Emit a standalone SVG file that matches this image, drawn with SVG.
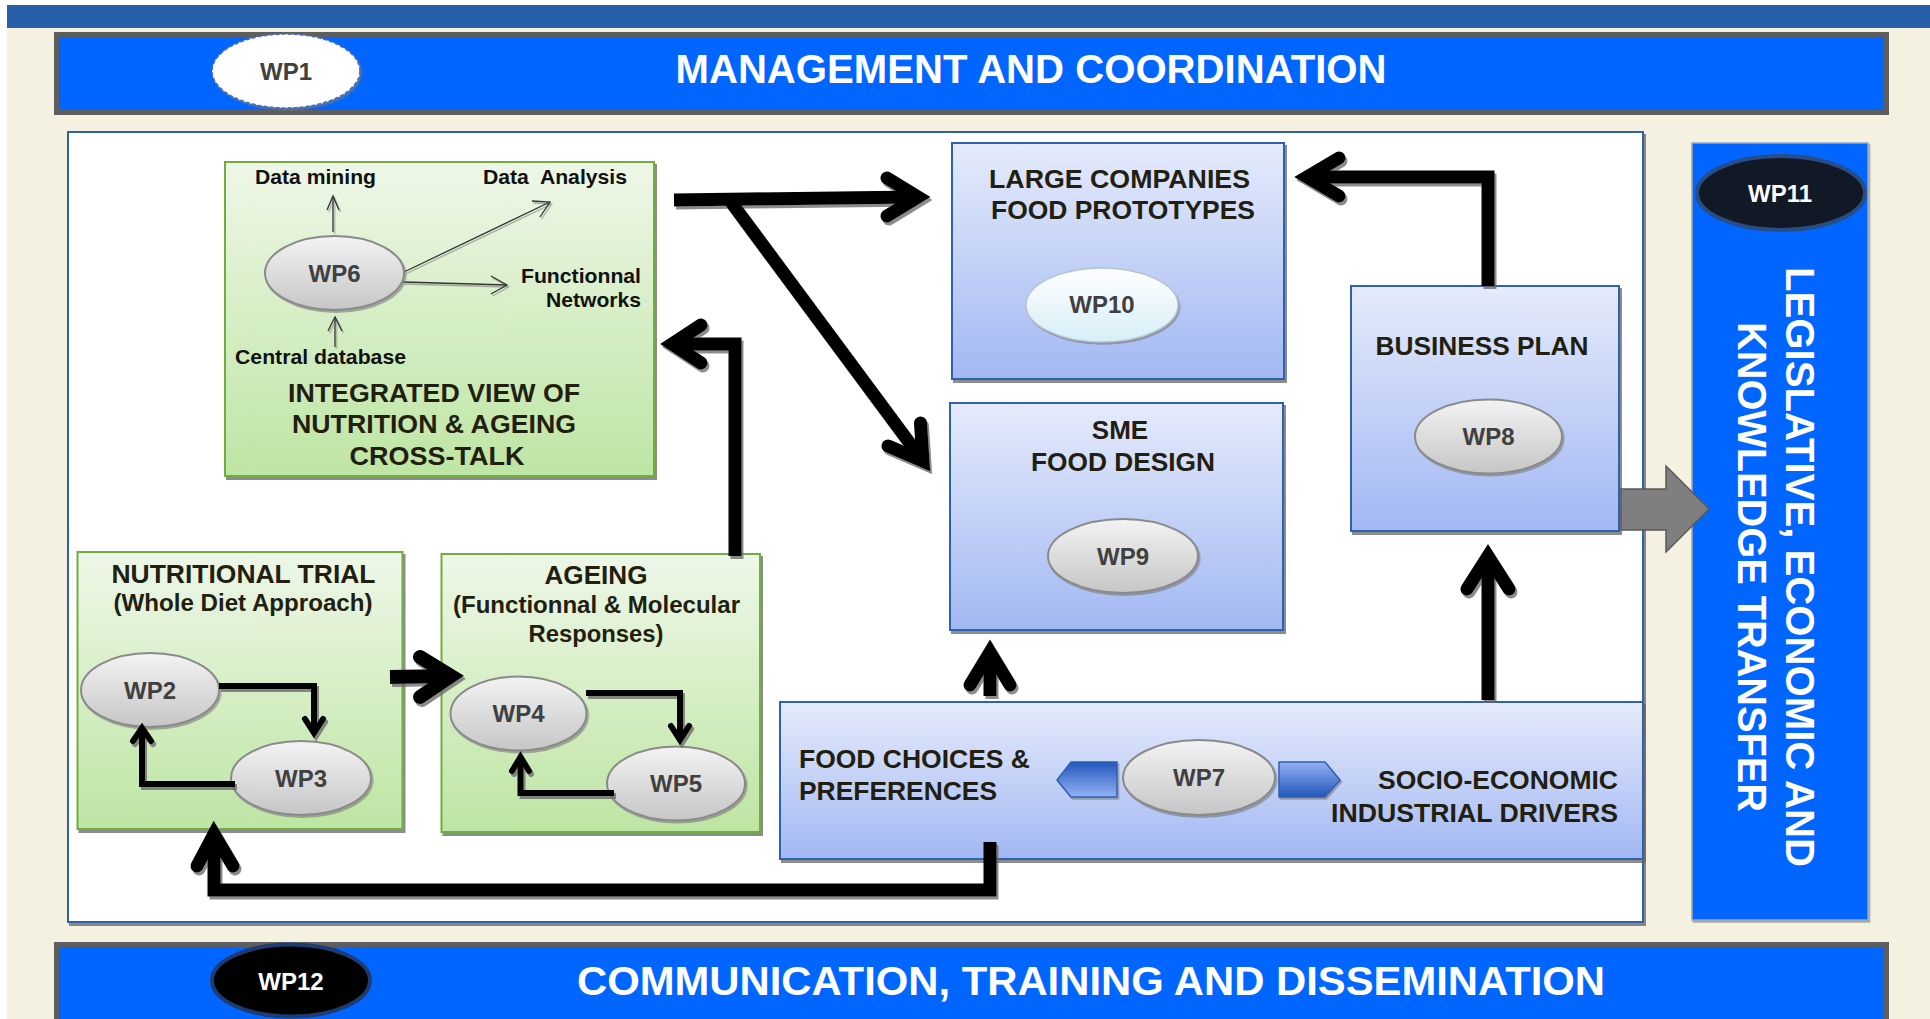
<svg xmlns="http://www.w3.org/2000/svg" width="1930" height="1019" viewBox="0 0 1930 1019">
<defs>
<linearGradient id="gGreen" x1="0" y1="0" x2="0" y2="1"><stop offset="0" stop-color="#EEF7E8"/><stop offset="1" stop-color="#BEE5A3"/></linearGradient>
<linearGradient id="gBlue" x1="0" y1="0" x2="0" y2="1"><stop offset="0" stop-color="#E5EBFB"/><stop offset="1" stop-color="#A2B8F3"/></linearGradient>
<linearGradient id="gGray" x1="0" y1="0" x2="0" y2="1"><stop offset="0" stop-color="#F3F3F3"/><stop offset="1" stop-color="#C6C6C6"/></linearGradient>
<linearGradient id="gWP10" x1="0" y1="0" x2="0" y2="1"><stop offset="0" stop-color="#FFFFFF"/><stop offset="1" stop-color="#D6EEF8"/></linearGradient>
<linearGradient id="gHexL" x1="0" y1="0" x2="0" y2="1"><stop offset="0" stop-color="#2457BC"/><stop offset="1" stop-color="#93B0F5"/></linearGradient>
<linearGradient id="gHexR" x1="0" y1="0" x2="0" y2="1"><stop offset="0" stop-color="#93B0F5"/><stop offset="1" stop-color="#2457BC"/></linearGradient>
<filter id="sh" x="-10%" y="-10%" width="130%" height="140%"><feDropShadow dx="2" dy="3" stdDeviation="0.7" flood-color="#666" flood-opacity="0.75"/></filter>
<filter id="shs" x="-10%" y="-10%" width="130%" height="140%"><feDropShadow dx="1.5" dy="2" stdDeviation="0.5" flood-color="#777" flood-opacity="0.6"/></filter>
</defs>
<style>
text{font-family:"Liberation Sans",Arial,sans-serif;font-weight:bold}
.box{stroke-width:2}
.green{fill:url(#gGreen);stroke:#6FAD3F}
.blue{fill:url(#gBlue);stroke:#2F62AE}
.ell{fill:url(#gGray);stroke:#8A8A8A;stroke-width:2}
.wp{font-size:24px;fill:#404040;text-anchor:middle}
.wpw{font-size:24px;fill:#FFFFFF;text-anchor:middle}
.ttl{font-size:26px;fill:#221E10;text-anchor:middle}
.sub{font-size:23px;fill:#221E10;text-anchor:middle}
.lbl{font-size:20.5px;fill:#111}
.big{font-size:40px;fill:#FFFFFF;text-anchor:middle}
.st{text-anchor:start}
.en{text-anchor:end}
.thick{fill:none;stroke:#000;stroke-width:13;stroke-linejoin:miter;stroke-linecap:butt}
.head{fill:none;stroke:#000;stroke-width:13;stroke-linejoin:miter;stroke-linecap:round}
.small{fill:none;stroke:#000;stroke-width:6;stroke-linejoin:miter;stroke-linecap:butt}
.shead{fill:none;stroke:#000;stroke-width:6;stroke-linejoin:miter;stroke-linecap:round}
.thin{fill:none;stroke:#333;stroke-width:1.3;stroke-linejoin:miter}
</style>

<rect x="0" y="0" width="1930" height="1019" fill="#FFFFFF"/>
<rect x="7" y="28" width="1923" height="991" fill="#F4F1E1"/>
<rect x="7" y="5" width="1923" height="23" fill="#2560A8"/>

<g id="header">
<rect x="56.5" y="34.5" width="1830" height="78" fill="#0066FF" stroke="#5E5E5E" stroke-width="5"/>
<text class="big" x="1031" y="83" textLength="711" lengthAdjust="spacingAndGlyphs">MANAGEMENT AND COORDINATION</text>
</g>
<g id="wp1">
<ellipse cx="286" cy="71" rx="74" ry="37" fill="#FFFFFF" stroke="#4A6DB8" stroke-width="1.6" stroke-dasharray="4 2" filter="url(#shs)"/>
<text class="wp" x="286" y="80">WP1</text>
</g>

<g id="footer">
<rect x="56.5" y="944.5" width="1830" height="78" fill="#0066FF" stroke="#5E5E5E" stroke-width="5"/>
<text class="big" x="1091" y="995" textLength="1028" lengthAdjust="spacingAndGlyphs">COMMUNICATION, TRAINING AND DISSEMINATION</text>
</g>
<g id="wp12">
<ellipse cx="291" cy="980.5" rx="79" ry="36" fill="#000000" stroke="#1E3C72" stroke-width="4"/>
<text class="wpw" x="291" y="990">WP12</text>
</g>

<g id="main-panel">
<rect x="68" y="132" width="1575" height="790" fill="#FFFFFF" stroke="#2F62AE" stroke-width="2" filter="url(#sh)"/>
</g>

<g id="wp11">
<rect x="1692" y="143" width="176" height="777" fill="#0066FF" stroke="#9AA6BA" stroke-width="1.5" filter="url(#shs)"/>
<ellipse cx="1781" cy="193" rx="84" ry="37" fill="#111826" stroke="#284C84" stroke-width="4"/>
<text class="wpw" x="1780" y="202">WP11</text>
<text class="big" transform="translate(1780,567) rotate(90)" x="0" y="-6" textLength="600" lengthAdjust="spacingAndGlyphs">LEGISLATIVE, ECONOMIC AND</text>
<text class="big" transform="translate(1780,567) rotate(90)" x="0" y="42" textLength="490" lengthAdjust="spacingAndGlyphs">KNOWLEDGE TRANSFER</text>
</g>

<g id="integrated-view">
<rect class="box green" x="225" y="162" width="429" height="314" filter="url(#sh)"/>
<text class="lbl" x="255" y="184" textLength="121" lengthAdjust="spacingAndGlyphs">Data mining</text>
<text class="lbl" x="483" y="184" xml:space="preserve" textLength="144" lengthAdjust="spacingAndGlyphs">Data  Analysis</text>
<text class="lbl en" x="641" y="283" textLength="120" lengthAdjust="spacingAndGlyphs">Functionnal</text>
<text class="lbl en" x="641" y="307" textLength="95" lengthAdjust="spacingAndGlyphs">Networks</text>
<text class="lbl" x="235" y="364" textLength="171" lengthAdjust="spacingAndGlyphs">Central database</text>
<g filter="url(#shs)">
<line class="thin" x1="333" y1="232" x2="333" y2="196"/>
<polyline class="thin" points="327,210 333,196 339,210"/>
<line class="thin" x1="335" y1="347" x2="335" y2="317"/>
<polyline class="thin" points="328,331 335,317 342,331"/>
<line class="thin" x1="404" y1="272" x2="550" y2="202"/>
<polyline class="thin" points="532,201 550,202 540,217"/>
<line class="thin" x1="403" y1="282" x2="507" y2="285"/>
<polyline class="thin" points="491,276 507,285 491,294"/>
</g>
<text class="ttl" x="434" y="402" textLength="292" lengthAdjust="spacingAndGlyphs">INTEGRATED VIEW OF</text>
<text class="ttl" x="434" y="433" textLength="284" lengthAdjust="spacingAndGlyphs">NUTRITION &amp; AGEING</text>
<text class="ttl" x="437" y="465" textLength="175" lengthAdjust="spacingAndGlyphs">CROSS-TALK</text>
</g>
<g id="wp6">
<ellipse class="ell" cx="334.5" cy="273" rx="69.5" ry="37" filter="url(#shs)"/>
<text class="wp" x="334.5" y="282">WP6</text>
</g>

<g id="large-companies">
<rect class="box blue" x="952" y="143" width="332" height="236" filter="url(#sh)"/>
<text class="ttl" x="1119.5" y="188" textLength="261" lengthAdjust="spacingAndGlyphs">LARGE COMPANIES</text>
<text class="ttl" x="1123" y="219" textLength="264" lengthAdjust="spacingAndGlyphs">FOOD PROTOTYPES</text>
</g>
<g id="wp10">
<ellipse cx="1102" cy="305" rx="76" ry="37" fill="url(#gWP10)" stroke="#B8C4CC" stroke-width="1.5" filter="url(#shs)"/>
<text class="wp" x="1102" y="313">WP10</text>
</g>

<g id="sme">
<rect class="box blue" x="950" y="403" width="333" height="227" filter="url(#sh)"/>
<text class="ttl" x="1120" y="439">SME</text>
<text class="ttl" x="1123" y="471" textLength="184" lengthAdjust="spacingAndGlyphs">FOOD DESIGN</text>
</g>
<g id="wp9">
<ellipse class="ell" cx="1123" cy="556" rx="75" ry="37" filter="url(#shs)"/>
<text class="wp" x="1123" y="565">WP9</text>
</g>

<g id="business-plan">
<rect class="box blue" x="1351" y="286" width="268" height="245" filter="url(#sh)"/>
<text class="ttl" x="1482" y="355" textLength="213" lengthAdjust="spacingAndGlyphs">BUSINESS PLAN</text>
</g>
<g id="wp8">
<ellipse class="ell" cx="1488.5" cy="436.5" rx="73.5" ry="37" filter="url(#shs)"/>
<text class="wp" x="1488.5" y="445">WP8</text>
</g>

<g id="transfer-arrow">
<polygon points="1621,489 1666,489 1666,466 1709,509 1666,552 1666,530 1621,530" fill="#7F7F7F" stroke="#5A5A5A" stroke-width="1.5"/>
</g>

<g id="nutritional-trial">
<rect class="box green" x="77.5" y="552" width="325" height="277" filter="url(#sh)"/>
<text class="ttl" x="243.5" y="583" textLength="264" lengthAdjust="spacingAndGlyphs">NUTRITIONAL TRIAL</text>
<text class="sub" x="243" y="611" textLength="259" lengthAdjust="spacingAndGlyphs">(Whole Diet Approach)</text>
</g>
<g id="wp2">
<ellipse class="ell" cx="150" cy="690" rx="69" ry="37" filter="url(#shs)"/>
<text class="wp" x="150" y="699">WP2</text>
</g>
<g id="wp3">
<ellipse class="ell" cx="301" cy="778" rx="70" ry="37" filter="url(#shs)"/>
<text class="wp" x="301" y="787">WP3</text>
</g>

<g id="ageing">
<rect class="box green" x="441.5" y="554" width="318.5" height="278" filter="url(#sh)"/>
<text class="ttl" x="596" y="584" textLength="103" lengthAdjust="spacingAndGlyphs">AGEING</text>
<text class="sub" x="596.5" y="613" textLength="287" lengthAdjust="spacingAndGlyphs">(Functionnal &amp; Molecular</text>
<text class="sub" x="596" y="642" textLength="135" lengthAdjust="spacingAndGlyphs">Responses)</text>
</g>
<g id="wp4">
<ellipse class="ell" cx="518.5" cy="713.5" rx="68" ry="37" filter="url(#shs)"/>
<text class="wp" x="518.5" y="722">WP4</text>
</g>
<g id="wp5">
<ellipse class="ell" cx="676" cy="783.5" rx="69" ry="37" filter="url(#shs)"/>
<text class="wp" x="676" y="792">WP5</text>
</g>

<g id="food-choices">
<rect class="box blue" x="780" y="702" width="863" height="157" filter="url(#sh)"/>
<text class="ttl st" x="799" y="768" textLength="231" lengthAdjust="spacingAndGlyphs">FOOD CHOICES &amp;</text>
<text class="ttl st" x="799" y="800" textLength="198" lengthAdjust="spacingAndGlyphs">PREFERENCES</text>
<text class="ttl en" x="1618" y="789" textLength="240" lengthAdjust="spacingAndGlyphs">SOCIO-ECONOMIC</text>
<text class="ttl en" x="1618" y="822" textLength="287" lengthAdjust="spacingAndGlyphs">INDUSTRIAL DRIVERS</text>
<polygon points="1071,762 1117,762 1117,797 1071,797 1057,780" fill="url(#gHexL)" stroke="#2F62AE" stroke-width="1.5" filter="url(#shs)"/>
<polygon points="1279,762 1325,762 1340,780 1325,797 1279,797" fill="url(#gHexR)" stroke="#2F62AE" stroke-width="1.5" filter="url(#shs)"/>
</g>
<g id="wp7">
<ellipse class="ell" cx="1199" cy="777.5" rx="76" ry="37.5" filter="url(#shs)"/>
<text class="wp" x="1199" y="786">WP7</text>
</g>

<g id="connectors" filter="url(#sh)">
<line class="thick" x1="674" y1="200" x2="918" y2="197"/>
<polyline class="head" points="887,178 918,197 887,216"/>
<line class="thick" x1="728" y1="198" x2="923" y2="461"/>
<polyline class="head" points="920.5,423 923,461 888,446"/>
<polyline class="thick" points="735,556 735,344 672,344"/>
<polyline class="head" points="701,325 672,344 701,363"/>
<polyline class="thick" points="1488,286 1488,177 1307,177"/>
<polyline class="head" points="1339,158 1307,177 1339,196"/>
<line class="thick" x1="1488" y1="700" x2="1488" y2="556"/>
<polyline class="head" points="1467,589 1488,556 1509,589"/>
<line class="thick" x1="990" y1="696" x2="990" y2="652"/>
<polyline class="head" points="970,685 990,652 1010,685"/>
<polyline class="thick" points="990,842 990,890 214,890 214,834"/>
<polyline class="head" points="197,866 214,834 233,866"/>
<line class="thick" x1="390" y1="677" x2="451" y2="676" style="stroke-width:14"/>
<polyline class="head" points="420,657 451,676 420,697" style="stroke-width:14"/>
<polyline class="small" points="219,686 314,686 314,733"/>
<polyline class="shead" points="305,719 314,733 323,719"/>
<polyline class="small" points="235,784 142,784 142,728"/>
<polyline class="shead" points="133,741 142,728 151,741"/>
<polyline class="small" points="586,693 680,693 680,740"/>
<polyline class="shead" points="671,726 680,740 689,726"/>
<polyline class="small" points="614,793 520.5,793 520.5,757"/>
<polyline class="shead" points="512,771 520.5,757 529,771"/>
</g>
</svg>
